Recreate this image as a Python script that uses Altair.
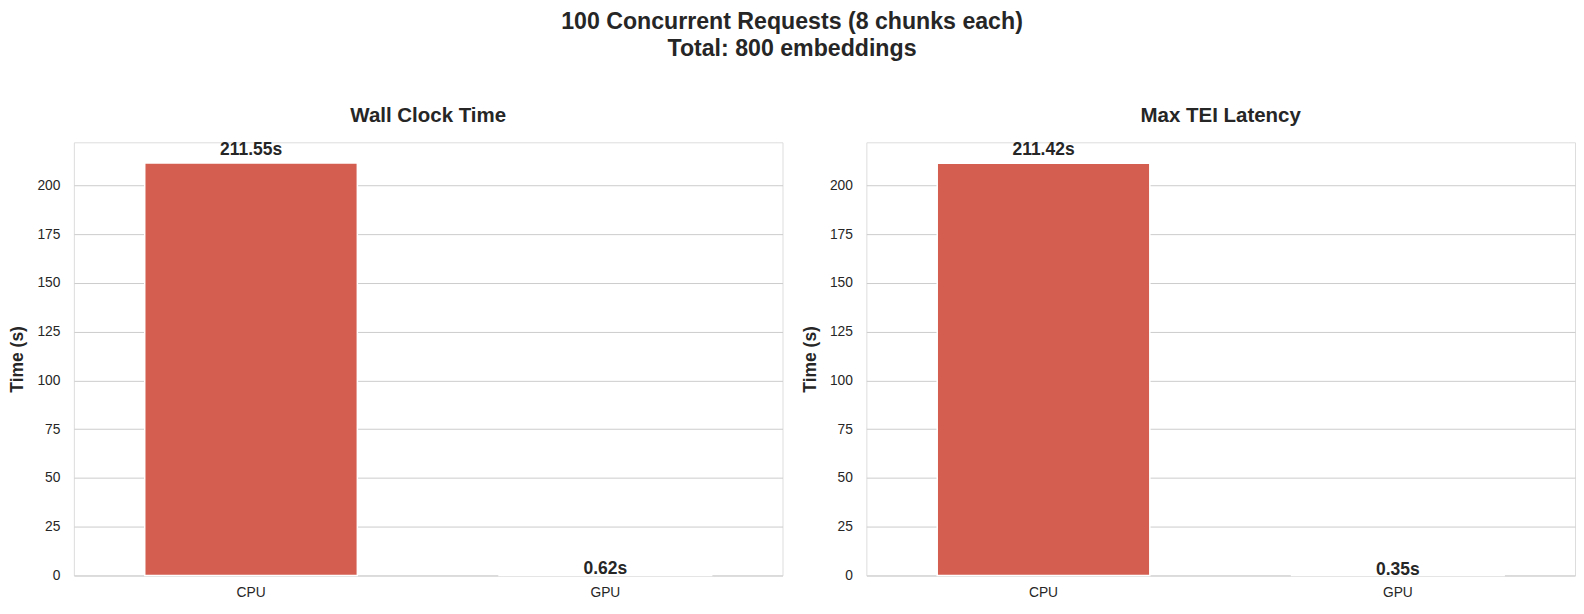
import altair as alt
import pandas as pd

devices = ["CPU", "GPU"]
wall_clock = [211.55, 0.62]
tei_latency = [211.42, 0.35]
bar_colors = ["#d45f51", "#2ecc71"]
panel_titles = ["Wall Clock Time", "Max TEI Latency"]
main_title = ["100 Concurrent Requests (8 chunks each)", "Total: 800 embeddings"]

FONT = "Liberation Sans"
YMAX = 222.1


def panel(values, title):
    df = pd.DataFrame({"device": devices, "time": values,
                       "label": [f"{v:.2f}s" for v in values]})
    base = alt.Chart(df).encode(
        x=alt.X("device:N", sort=devices, title=None,
                scale=alt.Scale(paddingInner=0.4, paddingOuter=0.2),
                axis=alt.Axis(labelAngle=0, labelFontSize=13.8, labelColor="#262626",
                              ticks=False, domain=False, grid=False, labelPadding=10,
                              labelFont=FONT)),
    )
    yaxis = alt.Axis(values=list(range(0, 201, 25)), labelFontSize=13.8,
                     labelColor="#262626", ticks=False, domain=False,
                     gridColor="#cccccc", gridWidth=1, labelPadding=14,
                     titleFontSize=17.5, titleFontWeight="bold",
                     titleColor="#262626", titlePadding=10, labelFont=FONT,
                     titleFont=FONT)
    yscale = alt.Scale(domain=[0, YMAX], nice=False, zero=True)
    bars = base.mark_bar(stroke="white", strokeWidth=1.5).encode(
        y=alt.Y("time:Q", title="Time (s)", scale=yscale, axis=yaxis),
        color=alt.Color("device:N", sort=devices,
                        scale=alt.Scale(domain=devices, range=bar_colors), legend=None),
    )
    text = base.transform_calculate(ty="datum.time * 1.02").mark_text(
        baseline="alphabetic", fontSize=17.5, fontWeight="bold",
        font=FONT, color="#262626").encode(
        y=alt.Y("ty:Q", scale=yscale, title="Time (s)"),
        text="label:N")
    return alt.layer(bars, text).properties(
        width=710, height=434,
        title=alt.Title(title, fontSize=20.5, fontWeight="bold", font=FONT,
                        color="#262626", offset=14),
    )


chart = alt.hconcat(
    panel(wall_clock, panel_titles[0]),
    panel(tei_latency, panel_titles[1]),
    spacing=17,
).properties(
    padding={"left": 0, "top": 1, "right": 0, "bottom": 0},
    title=alt.Title(main_title, fontSize=23.2, fontWeight="bold", font=FONT,
                    color="#262626", anchor="middle", lineHeight=27, offset=45),
).configure_view(stroke="#cccccc", strokeWidth=1.2).configure(background="white")

chart.save("out.html", embed_options={"renderer": "svg", "actions": False})
